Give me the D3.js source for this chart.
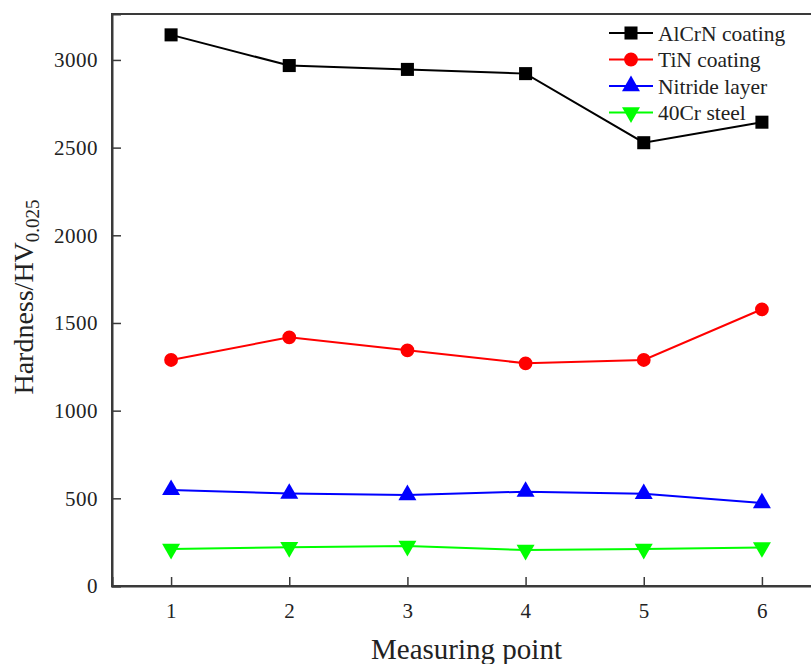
<!DOCTYPE html>
<html>
<head>
<meta charset="utf-8">
<script src="https://cdn.jsdelivr.net/npm/d3@7"></script>
<style>
  body { margin: 0; background: #fff; }
  svg { display: block; }
  svg text { font-family: "Liberation Serif", "DejaVu Serif", serif; }
</style>
</head>
<body>
<div id="chart"></div>
<script>
const width = 811,
    height = 664;

// measuring points and hardness values
const points = [1, 2, 3, 4, 5, 6];
const alcrn = [3143, 2968, 2946, 2922, 2528, 2645];
const tin = [1289, 1418, 1344, 1270, 1289, 1578];
const nitride = [548, 527, 519, 538, 526, 473];
const steel = [211, 221, 228, 205, 211, 220];
const yTicks = [0, 500, 1000, 1500, 2000, 2500, 3000];

const seriesNames = ["AlCrN coating", "TiN coating", "Nitride layer", "40Cr steel"];
const seriesColors = ["#000000", "#ff0000", "#0000ff", "#00ff00"];
const seriesMarkers = ["square", "circle", "triangle", "triangleDown"];
const seriesValues = [alcrn, tin, nitride, steel];

const margin = { top: 14, right: -10, bottom: 78, left: 112 };

let svg = d3.select('#chart').append('svg')
    .attr('width', width)
    .attr('height', height);

// x domain padded half a step on each side, so the right frame falls just off the page
let x = d3.scaleLinear()
    .domain([0.5, 6.5])
    .range([margin.left, width - margin.right]);

let y = d3.scaleLinear()
    .domain([0, 3262])
    .range([height - margin.bottom, margin.top]);

const axisColor = "#3a3a3a";
const serif = "Liberation Serif, DejaVu Serif, serif";

// frame
svg.append("rect")
    .attr("x", x(0.5))
    .attr("y", y(3262))
    .attr("width", x(6.5) - x(0.5))
    .attr("height", y(0) - y(3262))
    .attr("fill", "none")
    .attr("stroke", axisColor)
    .attr("stroke-width", 2);

// axes with inward ticks
let xAxis = svg.append("g")
    .attr("transform", `translate(0,${y(0)})`)
    .call(d3.axisBottom(x).tickValues(points).tickSize(-9).tickPadding(17).tickFormat(d3.format("d")));

let yAxis = svg.append("g")
    .attr("transform", `translate(${x(0.5)},0)`)
    .call(d3.axisLeft(y).tickValues(yTicks).tickSize(-9).tickPadding(14).tickFormat(d3.format("d")));

[xAxis, yAxis].forEach(function (g) {
    g.attr("font-family", serif).attr("font-size", 21);
    g.select(".domain").attr("stroke", axisColor).attr("stroke-width", 2);
    g.selectAll(".tick line").attr("stroke", axisColor).attr("stroke-width", 1.5);
    g.selectAll(".tick text")
        .attr("fill", "#222")
        .style("letter-spacing", "0.5px");
});

// marker shapes
const symbolFor = {
    square: d3.symbol().type(d3.symbolSquare).size(170),
    circle: d3.symbol().type(d3.symbolCircle).size(150),
    triangle: d3.symbol().type(d3.symbolTriangle).size(140),
    triangleDown: d3.symbol().type(d3.symbolTriangle).size(140)
};

function markerTransform(kind, px, py) {
    if (kind === "triangleDown") return `translate(${px},${py}) rotate(180)`;
    return `translate(${px},${py})`;
}

let line = d3.line()
    .x((d, i) => x(points[i]))
    .y(d => y(d));

seriesValues.forEach(function (vals, s) {
    let g = svg.append("g");

    g.append("path")
        .datum(vals)
        .attr("fill", "none")
        .attr("stroke", seriesColors[s])
        .attr("stroke-width", 2)
        .attr("d", line);

    g.selectAll("path.marker")
        .data(vals)
        .enter()
        .append("path")
        .attr("class", "marker")
        .attr("d", symbolFor[seriesMarkers[s]])
        .attr("fill", seriesColors[s])
        .attr("transform", (d, i) => markerTransform(seriesMarkers[s], x(points[i]), y(d)));
});

// legend
let legend = svg.append("g")
    .attr("transform", "translate(609,33)");

seriesNames.forEach(function (name, s) {
    let row = legend.append("g")
        .attr("transform", `translate(0,${s * 26.5})`);

    row.append("line")
        .attr("x1", 0).attr("x2", 44)
        .attr("y1", 0).attr("y2", 0)
        .attr("stroke", seriesColors[s])
        .attr("stroke-width", 2);

    row.append("path")
        .attr("d", symbolFor[seriesMarkers[s]])
        .attr("fill", seriesColors[s])
        .attr("transform", markerTransform(seriesMarkers[s], 22, 0));

    row.append("text")
        .attr("x", 49)
        .attr("y", 0)
        .attr("dy", "0.35em")
        .attr("fill", "#222")
        .attr("font-family", serif)
        .attr("font-size", 21.5)
        .text(name);
});

// axis titles
svg.append("text")
    .attr("x", x(3.5))
    .attr("y", 659)
    .attr("text-anchor", "middle")
    .attr("fill", "#222")
    .attr("font-family", serif)
    .attr("font-size", 29)
    .text("Measuring point");

let yTitle = svg.append("text")
    .attr("transform", "translate(33,297) rotate(-90)")
    .attr("text-anchor", "middle")
    .attr("fill", "#222")
    .attr("font-family", serif)
    .attr("font-size", 28);

yTitle.append("tspan").text("Hardness/HV");
yTitle.append("tspan")
    .attr("dy", 6)
    .attr("font-size", 19)
    .text("0.025");
</script>
</body>
</html>
